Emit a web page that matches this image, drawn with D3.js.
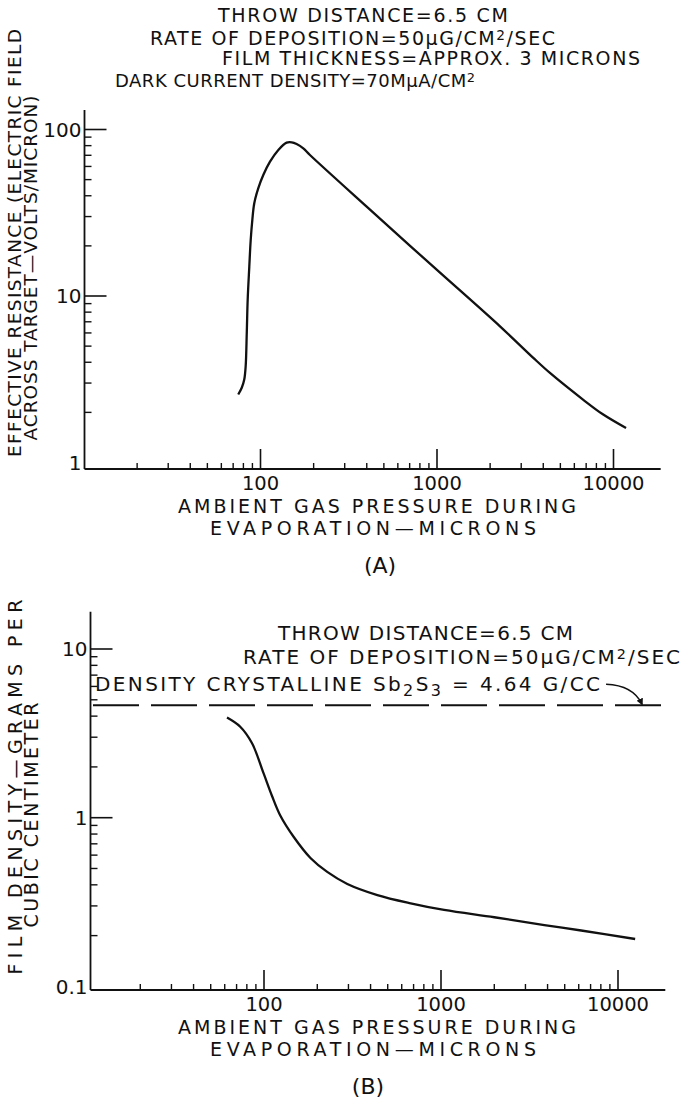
<!DOCTYPE html>
<html>
<head>
<meta charset="utf-8">
<script src="https://cdn.jsdelivr.net/npm/d3@7"></script>
<style>
  body { margin: 0; background: #fff; }
  svg text { font-family: "DejaVu Sans", sans-serif; fill: #111; }
</style>
</head>
<body>
<div id="chart"></div>
<script>
// (A) effective resistance vs ambient gas pressure (log-log)
const pressureA = [74.8, 78.3, 80.9, 82.4, 83.6, 84.6, 86.4, 88.0, 89.9, 92.2, 97.2, 103.7, 113.2,
    126.2, 140.6, 150.2, 160.2, 174.8, 190.6, 399.6, 953, 2275, 3512, 4365, 6745, 8750, 11780];
const resistanceA = [2.56, 2.81, 3.15, 3.78, 6.0, 9.5, 15.0, 21.7, 28.7, 36.1, 44.4, 53.3, 64.1,
    75.4, 83.4, 83.8, 81.8, 77.0, 70.3, 34.4, 15.0, 6.57, 4.25, 3.45, 2.38, 1.94, 1.61];

// (B) film density vs ambient gas pressure
const pressureB = [61.8, 73.4, 85.6, 99.5, 111, 124, 147.3, 183, 227.6, 295.6, 437, 674, 1041,
    2000, 3837, 6194, 12500];
const densityB = [3.92, 3.46, 2.76, 1.83, 1.345, 1.023, 0.768, 0.577, 0.477, 0.405, 0.348, 0.311,
    0.284, 0.257, 0.231, 0.2145, 0.191];
const crystallineDensity = 4.64;
const arrowTarget = [13500, 4.64];

// axes
const xDomain = [10, 10000];
const xExtent = [10, 18500];
const xMajor = [100, 1000, 10000];
const xMajorLabels = ["100", "1000", "10000"];
const yDomainA = [1, 100];
const yExtentA = [0.92, 131];
const yMajorA = [1, 10, 100];
const yLabelsA = ["1", "10", "100"];
const yDomainB = [0.1, 10];
const yExtentB = [0.0952, 16.6];
const yMajorB = [0.1, 1, 10];
const yLabelsB = ["0.1", "1", "10"];

// texts (segments: [text, "sup" | "sub" | ""])
const titleA = [
    [["THROW DISTANCE=6.5 CM", ""]],
    [["RATE OF DEPOSITION=50", ""], ["μ", ""], ["G/CM", ""], ["2", "sup"], ["/SEC", ""]],
    [["FILM THICKNESS=APPROX. 3 MICRONS", ""]],
    [["DARK CURRENT DENSITY=70M", ""], ["μ", ""], ["A/CM", ""], ["2", "sup"]]
];
const titleB = [
    [["THROW DISTANCE=6.5 CM", ""]],
    [["RATE OF DEPOSITION=50", ""], ["μ", ""], ["G/CM", ""], ["2", "sup"], ["/SEC", ""]],
    [["DENSITY CRYSTALLINE Sb", ""], ["2", "sub"], ["S", ""], ["3", "sub"], [" = 4.64 G/CC", ""]]
];
const xTitle = ["AMBIENT GAS PRESSURE DURING", "EVAPORATION—MICRONS"];
const yTitleA = ["EFFECTIVE RESISTANCE (ELECTRIC FIELD", "ACROSS TARGET—VOLTS/MICRON)"];
const yTitleB = ["FILM DENSITY—GRAMS PER", "CUBIC CENTIMETER"];

const svg = d3.select("#chart").append("svg")
    .attr("width", 682)
    .attr("height", 1103);

svg.append("defs").append("marker")
    .attr("id", "head")
    .attr("viewBox", "0 0 10 10")
    .attr("refX", 8).attr("refY", 5)
    .attr("markerWidth", 7).attr("markerHeight", 7)
    .attr("markerUnits", "userSpaceOnUse")
    .attr("orient", "auto")
    .append("path").attr("d", "M0,0 L10,5 L0,10 Z").attr("fill", "#111");

function richText(g, segs, x, y, len, size) {
    const t = g.append("text")
        .attr("x", x).attr("y", y)
        .attr("font-size", size)
        .attr("textLength", len)
        .attr("lengthAdjust", "spacing");
    let shift = 0;
    segs.forEach(([s, kind]) => {
        const want = kind === "sup" ? -5.5 : kind === "sub" ? 5 : 0;
        t.append("tspan")
            .attr("dy", want - shift)
            .attr("font-size", kind === "sup" ? size * 0.72 : kind ? size * 0.8 : size)
            .text(s);
        shift = want;
    });
    return t;
}

function panel(cfg) {
    const g = svg.append("g");
    const x = d3.scaleLog().domain(xDomain).range(cfg.xRange);
    const y = d3.scaleLog().domain(cfg.yDomain).range(cfg.yRange);
    const x0 = cfg.axisX, y0 = cfg.axisY;

    // axis lines
    g.append("line")
        .attr("x1", x0).attr("x2", x0)
        .attr("y1", y0).attr("y2", y(cfg.yExtent[1]))
        .attr("stroke", "#111").attr("stroke-width", 1.8);
    g.append("line")
        .attr("x1", x0).attr("x2", x(xExtent[1]))
        .attr("y1", y0).attr("y2", y0)
        .attr("stroke", "#111").attr("stroke-width", 1.8);

    // x ticks
    const xMinor = [];
    [10, 100, 1000].forEach(d => d3.range(2, 10).forEach(k => xMinor.push(d * k)));
    g.selectAll(".xminor").data(xMinor).enter().append("line")
        .attr("x1", d => x(d)).attr("x2", d => x(d))
        .attr("y1", y0).attr("y2", y0 - 6)
        .attr("stroke", "#111").attr("stroke-width", 1.4);
    g.selectAll(".xmajor").data(xMajor).enter().append("line")
        .attr("x1", d => x(d)).attr("x2", d => x(d))
        .attr("y1", y0).attr("y2", y0 - 20)
        .attr("stroke", "#111").attr("stroke-width", 1.6);
    g.selectAll(".xlab").data(xMajor).enter().append("text")
        .attr("x", d => x(d)).attr("y", y0 + 21)
        .attr("text-anchor", "middle")
        .attr("font-size", 19.5)
        .text((d, i) => xMajorLabels[i]);

    // y ticks
    const yMinor = [];
    cfg.yMajor.slice(0, 2).forEach(d => d3.range(2, 10).forEach(k => yMinor.push(d * k)));
    g.selectAll(".yminor").data(yMinor).enter().append("line")
        .attr("x1", x0).attr("x2", x0 + 7)
        .attr("y1", d => y(d)).attr("y2", d => y(d))
        .attr("stroke", "#111").attr("stroke-width", 1.4);
    g.selectAll(".ymajor").data(cfg.yMajor.slice(1)).enter().append("line")
        .attr("x1", x0).attr("x2", x0 + 22)
        .attr("y1", d => y(d)).attr("y2", d => y(d))
        .attr("stroke", "#111").attr("stroke-width", 1.6);
    g.selectAll(".ylab").data(cfg.yMajor).enter().append("text")
        .attr("x", x0 - 3).attr("y", d => y(d))
        .attr("dy", "0.36em")
        .attr("text-anchor", "end")
        .attr("font-size", 20)
        .text((d, i) => cfg.yLabels[i]);

    // curve
    const line = d3.line()
        .x(d => x(d[0])).y(d => y(d[1]))
        .curve(d3.curveCatmullRom.alpha(0.5));
    g.append("path")
        .datum(cfg.px.map((p, i) => [p, cfg.py[i]]))
        .attr("d", line)
        .attr("fill", "none")
        .attr("stroke", "#111")
        .attr("stroke-width", 2.3);

    // titles
    cfg.title.forEach((segs, i) => {
        const t = cfg.titlePos[i];
        richText(g, segs, t[0], t[1], t[2], t[3]);
    });

    // x title
    g.append("text").attr("x", 377).attr("y", y0 + 43.5)
        .attr("text-anchor", "middle").attr("font-size", 19)
        .attr("textLength", 398).attr("lengthAdjust", "spacing")
        .text(xTitle[0]);
    g.append("text").attr("x", 373).attr("y", y0 + 66)
        .attr("text-anchor", "middle").attr("font-size", 19)
        .attr("textLength", 326).attr("lengthAdjust", "spacing")
        .text(xTitle[1]);
    g.append("text").attr("x", cfg.tagX).attr("y", y0 + 104)
        .attr("text-anchor", "middle").attr("font-size", 22)
        .text(cfg.tag);

    // rotated y title
    cfg.yTitle.forEach((s, i) => {
        const p = cfg.yTitlePos[i];
        g.append("text")
            .attr("transform", `translate(${p[0]},${p[1]}) rotate(-90)`)
            .attr("text-anchor", "middle")
            .attr("font-size", p[3])
            .attr("textLength", p[2]).attr("lengthAdjust", "spacing")
            .text(s);
    });

    return { g, x, y };
}

// (A)
panel({
    xRange: [84, 613.5],
    yDomain: yDomainA, yRange: [462.5, 129.5], yExtent: yExtentA,
    axisX: 84.5, axisY: 469,
    yMajor: yMajorA, yLabels: yLabelsA,
    px: pressureA, py: resistanceA,
    title: titleA,
    titlePos: [[218, 22, 290, 19], [150, 45, 405, 19], [222, 65, 418, 19], [115, 87, 360, 18]],
    yTitle: yTitleA,
    yTitlePos: [[21, 243, 428, 18.5], [37, 268, 345, 18.5]],
    tag: "(A)", tagX: 380
});

// (B)
const b = panel({
    xRange: [87, 618],
    yDomain: yDomainB, yRange: [986.4, 649], yExtent: yExtentB,
    axisX: 90.5, axisY: 990,
    yMajor: yMajorB, yLabels: yLabelsB,
    px: pressureB, py: densityB,
    title: titleB,
    titlePos: [[278, 640, 295, 20], [243, 664, 437, 20], [95, 691, 505, 20]],
    yTitle: yTitleB,
    yTitlePos: [[22, 787, 375, 19], [38, 815, 225, 19]],
    tag: "(B)", tagX: 368
});

// crystalline density reference (dashed)
b.g.append("line")
    .attr("x1", 93).attr("x2", b.x(xExtent[1]) + 4)
    .attr("y1", b.y(crystallineDensity)).attr("y2", b.y(crystallineDensity))
    .attr("stroke", "#111").attr("stroke-width", 1.8)
    .attr("stroke-dasharray", "46,12");

// arrow from label to line
const ax = b.x(arrowTarget[0]), ay = b.y(arrowTarget[1]);
b.g.append("path")
    .attr("d", `M${ax - 35},${ay - 21} Q${ax - 8},${ay - 20} ${ax + 1},${ay - 1}`)
    .attr("fill", "none")
    .attr("stroke", "#111")
    .attr("stroke-width", 1.4)
    .attr("marker-end", "url(#head)");
</script>
</body>
</html>
